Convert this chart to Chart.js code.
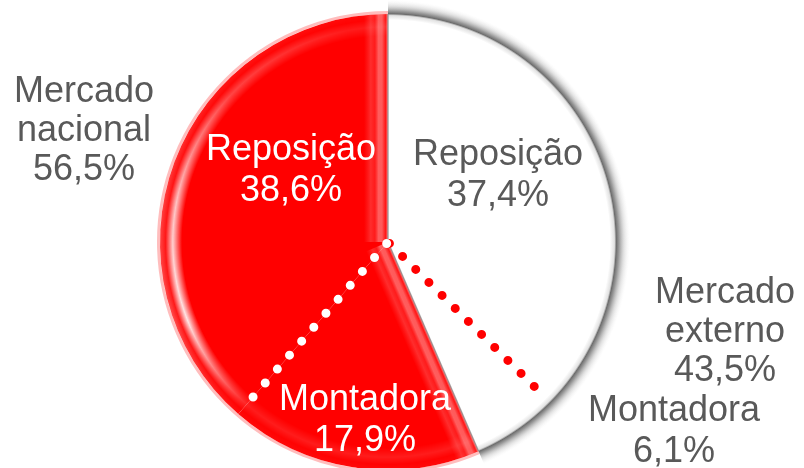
<!DOCTYPE html>
<html>
<head>
<meta charset="utf-8">
<script src="https://cdn.jsdelivr.net/npm/chart.js@4.4.1/dist/chart.umd.min.js"></script>
<style>
  html, body { margin: 0; padding: 0; background: #ffffff; }
  #wrap { width: 804px; height: 468px; position: relative; }
</style>
</head>
<body>
<div id="wrap"><canvas id="c" width="804" height="468"></canvas></div>
<script>
// ---- data ----
const categories = ['Reposição', 'Montadora', 'Montadora', 'Reposição'];
const values = [37.4, 6.1, 17.9, 38.6];
const valueLabels = ['37,4%', '6,1%', '17,9%', '38,6%'];
const marketNames = [['Mercado', 'nacional'], ['Mercado', 'externo']];
const marketValueLabels = ['56,5%', '43,5%'];

// ---- styles / layout ----
const sliceColors = ['#ffffff', '#ffffff', '#ff0000', '#ff0000'];
const textColors = ['#595959', '#595959', '#ffffff', '#ffffff'];
const dotColors = { externo: '#ff0000', nacional: '#ffffff' };
const FONT = '36px "Liberation Sans", Arial, sans-serif';
const LINE = 41;
// text anchors (centre x, first baseline y)
const sliceLabelPos = [[498, 165], [674, 421], [365, 410], [291, 160]];
const marketLabelPos = [[84, 102], [725, 303]];

const decor = {
  id: 'decor',
  afterDatasetsDraw(chart) {
    const ctx = chart.ctx;
    const arcs = chart.getDatasetMeta(0).data;
    const cx = arcs[0].x, cy = arcs[0].y, R = arcs[0].outerRadius;
    const wS = arcs[0].startAngle, wE = arcs[1].endAngle;
    const rS = arcs[2].startAngle, rE = arcs[3].endAngle;

    // grey rim around the white half
    ctx.save();
    const g = ctx.createRadialGradient(cx, cy, R - 6, cx, cy, R + 14);
    g.addColorStop(0, 'rgba(150,150,150,0)');
    g.addColorStop(0.22, 'rgba(160,160,160,0.3)');
    g.addColorStop(0.31, 'rgba(100,100,100,0.95)');
    g.addColorStop(0.45, 'rgba(120,120,120,0.75)');
    g.addColorStop(0.7, 'rgba(170,170,170,0.35)');
    g.addColorStop(1, 'rgba(230,230,230,0)');
    ctx.beginPath();
    ctx.arc(cx, cy, R + 14, wS, wE);
    ctx.arc(cx, cy, R - 6, wE, wS, true);
    ctx.closePath();
    ctx.fillStyle = g;
    ctx.fill();
    ctx.restore();

    // soft outer edge of red half
    ctx.save();
    ctx.beginPath();
    ctx.arc(cx, cy, R + 1.5, rS, rE);
    ctx.lineWidth = 3;
    ctx.strokeStyle = 'rgba(255,90,90,0.4)';
    ctx.stroke();
    ctx.restore();

    // glossy highlights inside red half
    ctx.save();
    ctx.beginPath();
    ctx.moveTo(cx, cy);
    ctx.arc(cx, cy, R, rS, rE);
    ctx.closePath();
    ctx.clip();

    const off = document.createElement('canvas');
    off.width = chart.width; off.height = chart.height;
    const o = off.getContext('2d');
    const rg = o.createRadialGradient(cx, cy, R - 40, cx, cy, R);
    rg.addColorStop(0, 'rgba(255,255,255,0)');
    rg.addColorStop(0.45, 'rgba(255,255,255,0)');
    rg.addColorStop(0.68, 'rgba(255,255,255,0.9)');
    rg.addColorStop(0.86, 'rgba(255,255,255,0.1)');
    rg.addColorStop(1, 'rgba(255,255,255,0.3)');
    o.fillStyle = rg;
    o.fillRect(0, 0, off.width, off.height);
    o.globalCompositeOperation = 'destination-in';
    const cg = o.createConicGradient(0, cx, cy);
    cg.addColorStop(0, 'rgba(0,0,0,0.12)');
    cg.addColorStop(0.36, 'rgba(0,0,0,0.12)');
    cg.addColorStop(0.44, 'rgba(0,0,0,1)');
    cg.addColorStop(0.53, 'rgba(0,0,0,0.85)');
    cg.addColorStop(0.62, 'rgba(0,0,0,0.3)');
    cg.addColorStop(0.72, 'rgba(0,0,0,0.12)');
    cg.addColorStop(1, 'rgba(0,0,0,0.12)');
    o.fillStyle = cg;
    o.fillRect(0, 0, off.width, off.height);
    ctx.drawImage(off, 0, 0);

    function band(a, sign) {
      const dx = Math.cos(a), dy = Math.sin(a);
      const nx = -dy * sign, ny = dx * sign;
      const w = 24;
      const lg = ctx.createLinearGradient(cx, cy, cx + nx * w, cy + ny * w);
      lg.addColorStop(0, 'rgba(255,200,200,0.75)');
      lg.addColorStop(0.1, 'rgba(255,120,120,0.2)');
      lg.addColorStop(0.25, 'rgba(255,150,150,0.6)');
      lg.addColorStop(0.4, 'rgba(255,170,170,0.55)');
      lg.addColorStop(0.55, 'rgba(255,110,110,0.25)');
      lg.addColorStop(0.72, 'rgba(255,130,130,0.35)');
      lg.addColorStop(1, 'rgba(255,100,100,0)');
      ctx.beginPath();
      ctx.moveTo(cx, cy);
      ctx.lineTo(cx + dx * R * 1.1, cy + dy * R * 1.1);
      ctx.lineTo(cx + dx * R * 1.1 + nx * w, cy + dy * R * 1.1 + ny * w);
      ctx.lineTo(cx + nx * w, cy + ny * w);
      ctx.closePath();
      ctx.fillStyle = lg;
      ctx.fill();
    }
    band(rS, 1);
    band(rE, -1);
    ctx.restore();

    // thin grey seam between the halves
    ctx.save();
    ctx.strokeStyle = 'rgba(140,140,140,0.75)';
    ctx.lineWidth = 1.5;
    [rS, rE].forEach(a => {
      ctx.beginPath();
      ctx.moveTo(cx, cy);
      ctx.lineTo(cx + Math.cos(a) * R, cy + Math.sin(a) * R);
      ctx.stroke();
    });
    ctx.restore();

    // dotted separators at the Reposição / Montadora boundaries
    function dotted(a, color) {
      ctx.save();
      ctx.strokeStyle = color;
      ctx.lineWidth = 9;
      ctx.lineCap = 'round';
      ctx.setLineDash([0, 18.5]);
      ctx.beginPath();
      ctx.moveTo(cx + Math.cos(a) * 2, cy + Math.sin(a) * 2);
      ctx.lineTo(cx + Math.cos(a) * (R - 4), cy + Math.sin(a) * (R - 4));
      ctx.stroke();
      ctx.restore();
    }
    dotted(arcs[1].startAngle, dotColors.externo);
    dotted(arcs[3].startAngle, dotColors.nacional);
  },
  afterDraw(chart) {
    const ctx = chart.ctx;
    ctx.save();
    ctx.font = FONT;
    ctx.textAlign = 'center';
    ctx.textBaseline = 'alphabetic';
    categories.forEach((c, i) => {
      const [x, y] = sliceLabelPos[i];
      ctx.fillStyle = textColors[i];
      ctx.fillText(c, x, y);
      ctx.fillText(valueLabels[i], x, y + LINE);
    });
    ctx.fillStyle = '#595959';
    marketNames.forEach((lines, i) => {
      const [x, y] = marketLabelPos[i];
      const all = lines.concat([marketValueLabels[i]]);
      all.forEach((t, k) => ctx.fillText(t, x, y + k * 39));
    });
    ctx.restore();
  }
};

new Chart(document.getElementById('c'), {
  type: 'pie',
  data: {
    labels: categories,
    datasets: [{
      data: values,
      backgroundColor: sliceColors,
      borderWidth: 0,
      radius: 228,
      clip: false
    }]
  },
  options: {
    responsive: false,
    animation: false,
    layout: { padding: { top: 16, right: 28, left: 0, bottom: 0 } },
    plugins: { legend: { display: false }, tooltip: { enabled: false } }
  },
  plugins: [decor]
});
</script>
</body>
</html>
